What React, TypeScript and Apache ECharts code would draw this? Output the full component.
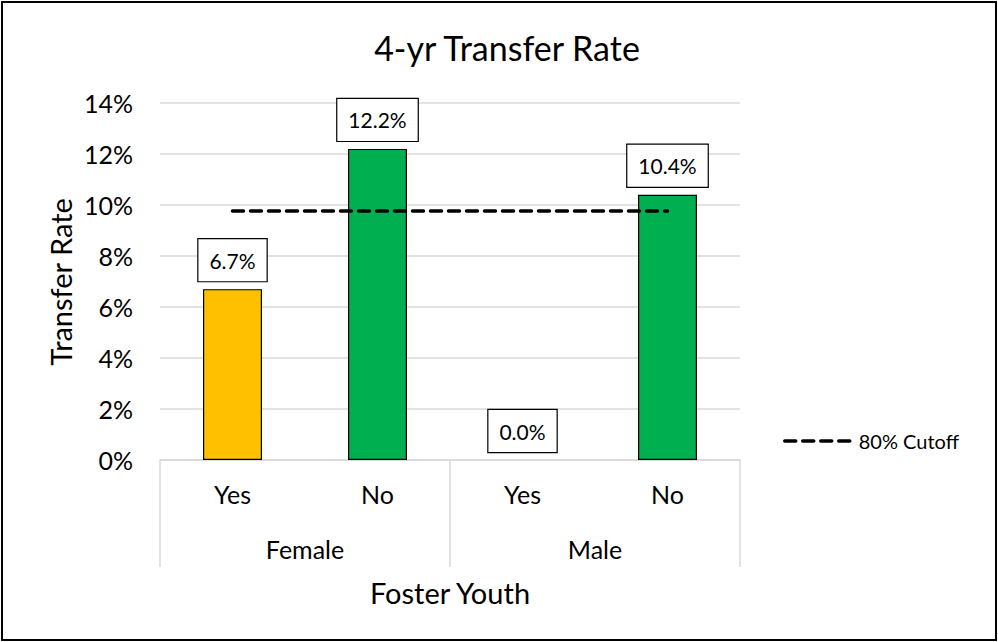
import React, { useEffect, useRef } from 'react';
import * as echarts from 'echarts';

const categories = ['Yes', 'No', 'Yes', 'No'];
const groups = ['Female', 'Male'];
const rates = [6.7, 12.2, 0.0, 10.4];
const barColors = ['#FFC000', '#00B050', '#FFC000', '#00B050'];
const cutoffName = '80% Cutoff';
const cutoff = [9.76, 9.76, 9.76, 9.76];
const titleText = '4-yr Transfer Rate';
const yTitle = 'Transfer Rate';
const xTitle = 'Foster Youth';

const FONT = 'Lato, Carlito, Calibri, sans-serif';

export default function App() {
  const ref = useRef<HTMLDivElement>(null);
  useEffect(() => {
    if (!ref.current) return;
    const chart = echarts.init(ref.current, undefined, { renderer: 'svg' });
    chart.setOption({
      animation: false,
      backgroundColor: '#fff',
      textStyle: { fontFamily: FONT },
      grid: { left: 160, right: 258, top: 103, bottom: 182, containLabel: false },
      legend: {
        data: [cutoffName],
        left: 778,
        top: 426,
        padding: 5,
        itemWidth: 67,
        itemHeight: 4,
        itemGap: 10,
        itemStyle: { opacity: 0 },
        lineStyle: { color: '#000', width: 3.5, type: [11, 7], cap: 'round' },
        textStyle: { fontFamily: FONT, fontSize: 20, color: '#000', padding: [0, 0, 0, 2] },
      },
      xAxis: [
        {
          type: 'category',
          data: categories,
          position: 'bottom',
          axisLine: { show: true, lineStyle: { color: '#d9d9d9', width: 1.5 } },
          axisTick: { show: false },
          axisLabel: { fontFamily: FONT, fontSize: 25, color: '#000', margin: 21, interval: 0 },
        },
        {
          type: 'category',
          data: groups,
          position: 'bottom',
          offset: 0,
          axisLine: { show: false },
          axisTick: { show: true, length: 107, interval: 0, lineStyle: { color: '#d9d9d9', width: 1.5 } },
          axisLabel: { fontFamily: FONT, fontSize: 25, color: '#000', margin: 76, interval: 0 },
        },
      ],
      yAxis: {
        type: 'value',
        min: 0,
        max: 14,
        interval: 2,
        axisLine: { show: false },
        axisTick: { show: false },
        axisLabel: { fontFamily: FONT, fontSize: 25, color: '#000', margin: 27, formatter: '{value}%' },
        splitLine: { lineStyle: { color: '#d9d9d9', width: 1.5 } },
      },
      series: [
        {
          type: 'bar',
          xAxisIndex: 0,
          barWidth: 59,
          data: rates.map((v, i) => ({
            value: v,
            itemStyle: { color: barColors[i], borderWidth: v === 0 ? 0 : 1.2 },
          })),
          itemStyle: { borderColor: '#000', borderWidth: 1.2 },
          label: {
            show: true,
            position: 'top',
            distance: 8,
            formatter: (p: any) => p.value.toFixed(1) + '%',
            fontFamily: FONT,
            fontSize: 21,
            color: '#000',
            backgroundColor: '#fff',
            borderColor: '#000',
            borderWidth: 1.2,
            padding: [8, 11, 8, 11],
            lineHeight: 26,
          },
          z: 2,
        },
        {
          type: 'line',
          name: cutoffName,
          xAxisIndex: 0,
          data: cutoff,
          symbol: 'none',
          showSymbol: false,
          lineStyle: { color: '#000', width: 3.5, type: [11, 7], cap: 'round' },
          itemStyle: { color: '#000' },
          z: 3,
        },
      ],
      graphic: [
        {
          type: 'text',
          x: 507,
          y: 47,
          style: { text: titleText, fontFamily: FONT, fontSize: 34, fill: '#000', align: 'center', verticalAlign: 'middle' },
        },
        {
          type: 'text',
          x: 60,
          y: 282,
          rotation: Math.PI / 2,
          style: { text: yTitle, fontFamily: FONT, fontSize: 29, fill: '#000', align: 'center', verticalAlign: 'middle' },
        },
        {
          type: 'text',
          x: 450,
          y: 592,
          style: { text: xTitle, fontFamily: FONT, fontSize: 29, fill: '#000', align: 'center', verticalAlign: 'middle' },
        },
        {
          type: 'rect',
          shape: { x: 2, y: 2, width: 994, height: 638 },
          style: { fill: 'none', stroke: '#000', lineWidth: 2 },
          silent: true,
        },
      ],
    });
    return () => chart.dispose();
  }, []);
  return <div ref={ref} style={{ position: 'fixed', left: 0, top: 0, width: 998, height: 642 }} />;
}
